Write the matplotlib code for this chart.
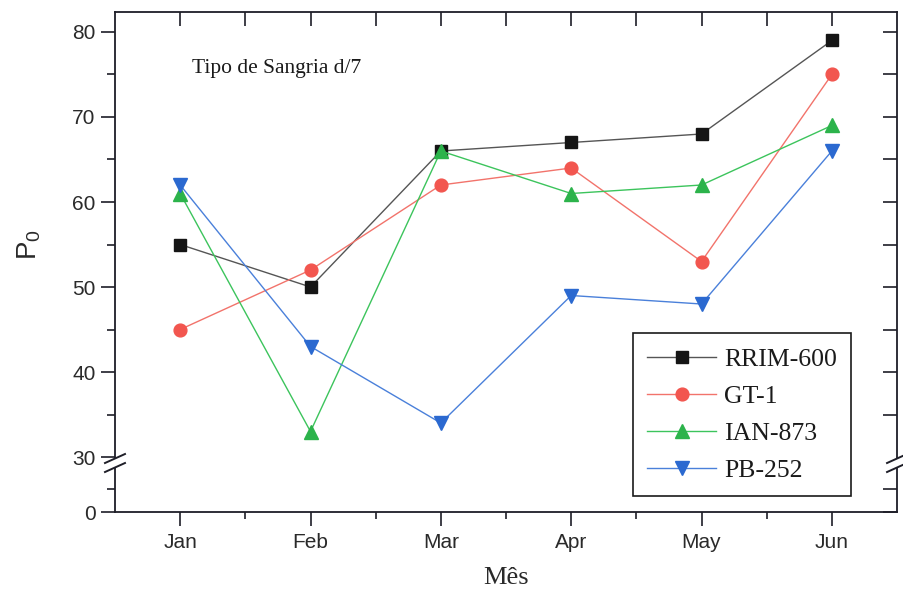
import numpy as np
import matplotlib
matplotlib.use('Agg')
import matplotlib.pyplot as plt
from matplotlib.lines import Line2D
from matplotlib.patches import Polygon

plt.rcParams['font.family'] = ['Liberation Sans', 'DejaVu Sans']
plt.rcParams['mathtext.fontset'] = 'custom'
plt.rcParams['mathtext.rm'] = 'Liberation Sans'

# dados
months = ['Jan', 'Feb', 'Mar', 'Apr', 'May', 'Jun']
rrim_600 = [55, 50, 66, 67, 68, 79]
gt_1 = [45, 52, 62, 64, 53, 75]
ian_873 = [61, 33, 66, 61, 62, 69]
pb_252 = [62, 43, 34, 49, 48, 66]

# eixo y quebrado em 30 (parte 0-30 comprimida)
brk = 30.0
k = 0.2157


def fwd(y):
    y = np.asarray(y, dtype=float)
    return np.where(y >= brk, y, brk - (brk - y) * k)


def inv(u):
    u = np.asarray(u, dtype=float)
    return np.where(u >= brk, u, brk - (brk - u) / k)


txt_col = '#2a2a2a'
frame_col = '#1e1e28'

fig = plt.figure(figsize=(9.04, 5.92), dpi=100)
ax = fig.add_axes([0.1272, 0.1351, 0.8651, 0.8446])
ax.set_yscale('function', functions=(fwd, inv))
ax.set_ylim(0, 82.35)
ax.set_xlim(-0.5, 5.5)

x = np.arange(len(months))
ax.plot(x, rrim_600, color='#555555', lw=1.0, marker='s', ms=8.8,
        mfc='#151515', mec='#151515', label='RRIM-600')
ax.plot(x, gt_1, color='#f2736b', lw=1.0, marker='o', ms=9.2,
        mfc='#f2564f', mec='#f2564f', label='GT-1')
ax.plot(x, ian_873, color='#3cc45c', lw=1.0, marker='^', ms=10.5,
        mfc='#2cb34b', mec='#2cb34b', label='IAN-873')
ax.plot(x, pb_252, color='#4a80da', lw=1.0, marker='v', ms=10.5,
        mfc='#2b69d0', mec='#2b69d0', label='PB-252')

ax.set_yticks([0, 30, 40, 50, 60, 70, 80])
ax.set_yticks([12.5, 35, 45, 55, 65, 75], minor=True)
ax.set_xticks(x, months)
ax.set_xticks(x[:-1] + 0.5, minor=True)

ax.tick_params(axis='both', which='major', direction='out', length=10, width=1.2,
               color=frame_col, labelcolor=txt_col, labelsize=15)
ax.tick_params(axis='y', which='major', pad=4)
ax.tick_params(axis='x', which='major', pad=5)
ax.tick_params(axis='y', which='minor', direction='out', length=6, width=1.2, color=frame_col)
ax.tick_params(axis='x', which='minor', direction='out', length=5, width=1.2, color=frame_col)
ax.yaxis.get_major_ticks()[1].tick1line.set_visible(False)
for sp in ax.spines.values():
    sp.set_color(frame_col)
    sp.set_linewidth(1.3)

# ticks internos no topo e na direita
ax_r = ax.twinx()
ax_r.set_yscale('function', functions=(fwd, inv))
ax_r.set_ylim(0, 82.35)
ax_r.set_yticks([0, 30, 40, 50, 60, 70, 80])
ax_r.set_yticks([12.5, 35, 45, 55, 65, 75], minor=True)
ax_r.tick_params(axis='y', which='both', direction='in', length=10, width=1.2,
                 color=frame_col, labelright=False)
ax_r.yaxis.get_major_ticks()[1].tick2line.set_visible(False)

ax_t = ax.twiny()
ax_t.set_xlim(-0.5, 5.5)
ax_t.set_xticks(x)
ax_t.set_xticks(x[:-1] + 0.5, minor=True)
ax_t.tick_params(axis='x', which='both', direction='in', length=10, width=1.2,
                 color=frame_col, labeltop=False)
for a in (ax_r, ax_t):
    for sp in a.spines.values():
        sp.set_visible(False)

ax.set_ylabel(r'$\mathrm{P_0}$', fontsize=20, color=txt_col)
ax.yaxis.set_label_coords(-0.092, 0.535)
ax.set_xlabel('Mês', family='Liberation Serif', fontsize=19, color=txt_col)
ax.xaxis.set_label_coords(0.5, -0.11)

ax.text(0.098, 0.878, 'Tipo de Sangria d/7', transform=ax.transAxes,
        family='Liberation Serif', fontsize=15.5, color='#1a1a1a', va='baseline')

leg = ax.legend(loc='lower left', bbox_to_anchor=(0.662, 0.032), borderaxespad=0,
                prop={'family': 'Liberation Serif', 'size': 18.5}, frameon=True,
                fancybox=False, framealpha=1, edgecolor='#1a1a1a',
                handlelength=2.7, handletextpad=0.3, labelspacing=0.55,
                borderpad=0.55)
leg.get_frame().set_linewidth(1.2)
for t in leg.get_texts():
    t.set_color('#1a1a1a')

# marcas de quebra do eixo
y30 = ax.transData.transform((0, 30))[1]
inv_fig = fig.transFigure.inverted()
for sx in (ax.transAxes.transform((0, 0))[0], ax.transAxes.transform((1, 0))[0]):
    cy = y30 - 6
    hw, dy, gap = 10, 4.5, 4.5
    quad = [(sx - hw, cy - dy + gap), (sx + hw, cy + dy + gap),
            (sx + hw, cy + dy - gap), (sx - hw, cy - dy - gap)]
    fig.add_artist(Polygon(inv_fig.transform(quad), closed=True, facecolor='white',
                           edgecolor='none', transform=fig.transFigure, zorder=5))
    for off in (gap, -gap):
        p = inv_fig.transform([(sx - hw, cy - dy + off), (sx + hw, cy + dy + off)])
        fig.add_artist(Line2D(p[:, 0], p[:, 1], color=frame_col, lw=1.4,
                              transform=fig.transFigure, zorder=6))

fig.savefig('out.png', dpi=100)
